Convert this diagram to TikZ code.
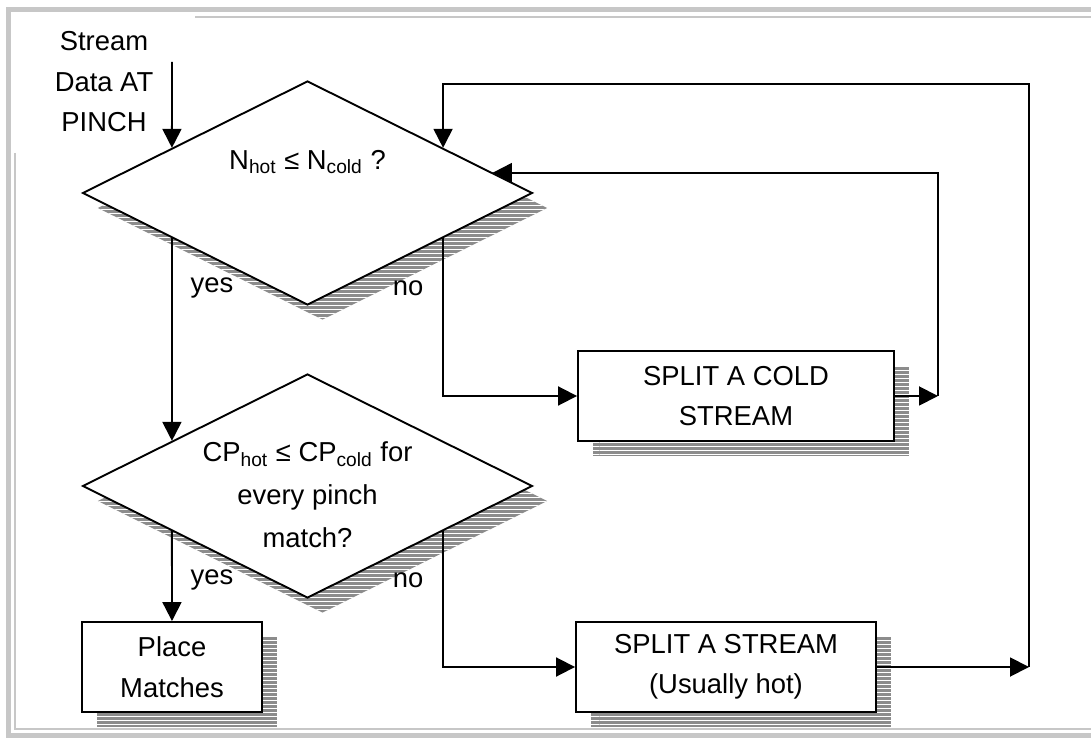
\documentclass[tikz,border=0pt]{standalone}
\usepackage{fontspec}
\setmainfont{Liberation Sans}
\usetikzlibrary{shapes.geometric,arrows.meta,shadows,patterns,calc}

\pgfdeclarepatternformonly{gaplines}{\pgfpointorigin}{\pgfqpoint{300pt}{1.8pt}}{\pgfqpoint{300pt}{1.8pt}}{%
  \pgfpathrectangle{\pgfpointorigin}{\pgfqpoint{300pt}{0.45pt}}\pgfusepath{fill}}

\tikzset{
  shad/.style={
    general shadow={shadow xshift=7.5pt, shadow yshift=-7.5pt, fill=black!45},
    general shadow={shadow xshift=7.5pt, shadow yshift=-7.5pt, pattern=gaplines, pattern color=white}},
  decis/.style={draw, fill=white, shape=diamond, inner sep=0pt, minimum width=225pt, minimum height=112pt, shad},
  procb/.style={draw, fill=white, minimum height=45pt, align=center, shad},
  frm/.style={draw=black!22, line width=2.5pt},
  frmi/.style={draw=black!22, line width=1pt}
}

\begin{document}
\begin{tikzpicture}[x=0.5pt, y=0.5pt, line width=0.95pt, >={Triangle[length=9.5pt,width=9.5pt]},
  font=\fontsize{13.7}{20.25}\selectfont]

\useasboundingbox (0,0) rectangle (1091,739);

% 外框
\draw[frm] (1091,729.5) -- (8,729.5) -- (8,4) -- (1091,4);
\draw[frmi] (195,722) -- (1091,722);
\draw[frmi] (15,586) -- (15,10) -- (1091,10);

% 判断框
\node[decis] (d1) at (307.5,546) {};
\node[decis] (d2) at (307.5,253) {};

\node (q1) at (307.5,577) {N\textsubscript{hot} ≤ N\textsubscript{cold} ?};
\node[align=center, font=\fontsize{13.7}{21.5}\selectfont] (q2) at (307.5,244)
  {CP\textsubscript{hot} ≤ CP\textsubscript{cold} for\\every pinch\\match?};

% 入口
\node[align=center] (src) at (104,657) {Stream\\Data AT\\PINCH};
\coordinate (in) at (172,677);

% 处理框
\node[procb, minimum width=158pt] (cold) at (736,343) {SPLIT A COLD\\STREAM};
\node[procb, minimum width=150pt] (anys) at (726,72) {SPLIT A STREAM\\(Usually hot)};
\node[procb, minimum width=90pt] (place) at (172,72) {Place\\Matches};

% 拐点
\coordinate (c1) at (938,343);
\coordinate (c2) at (1029,72);
\coordinate (c3) at (1029,655);

% 连线
\draw[->] (in) -- ($(d1.west)!0.4!(d1.north)$);
\draw[->] ($(d1.west)!0.4!(d1.south)$) -- ($(d2.west)!0.4!(d2.north)$);
\draw[->] ($(d2.west)!0.4!(d2.south)$) -- (place);
\draw[->] ($(d1.east)!0.4!(d1.south)$) |- (cold);
\draw[->] ($(d2.east)!0.4!(d2.south)$) |- (anys);
\draw[->] (cold) -- (c1);
\draw[->] (c1) |- ($(d1.north)!0.82!(d1.east)$);
\draw[->] (anys) -- (c2);
\draw[->] (c2) -- (c3) -| ($(d1.north)!0.6!(d1.east)$);

% 分支标注
\node (y1) at (212,451) {yes};
\node (n1) at (408,451) {no};
\node (y2) at (212,159) {yes};
\node (n2) at (408,159) {no};

\end{tikzpicture}
\end{document}
